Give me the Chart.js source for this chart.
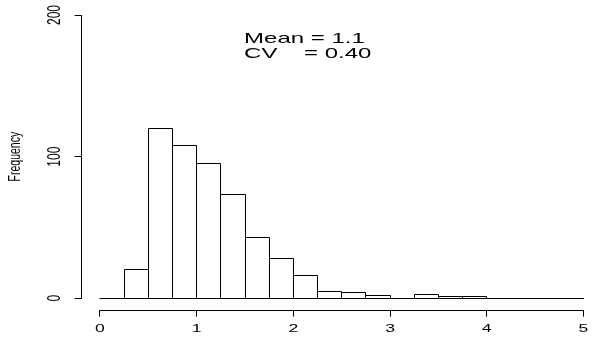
<!DOCTYPE html>
<html><head><meta charset="utf-8">
<script src="https://cdn.jsdelivr.net/npm/chart.js@4.4.1/dist/chart.umd.min.js"></script>
<style>
html,body{margin:0;padding:0;background:#fff;overflow:hidden;width:600px;height:342px;}
canvas{display:block;}
</style></head><body>
<canvas id="c" width="600" height="342"></canvas>
<script>
// ---- data ----
const breaks = [0, 0.25, 0.5, 0.75, 1, 1.25, 1.5, 1.75, 2, 2.25, 2.5, 2.75, 3, 3.25, 3.5, 3.75, 4, 4.25, 4.5, 4.75, 5];
const counts = [0, 20, 120, 108, 95, 73, 43, 28, 16, 5, 4, 2, 0, 3, 1, 1, 0, 0, 0, 0];
const xTicks = [0, 1, 2, 3, 4, 5];
const yTicks = [0, 100, 200];
const yTitle = 'Frequency';
const annotLines = ['Mean = 1.1', 'CV    = 0.40'];
const annotX = 1.49;
const annotY = [180, 169.4];

const FONT = "'Liberation Sans', Arial, Helvetica, sans-serif";
const SX = 1.6; // horizontal text stretch seen in the reference
const points = counts.map((c, i) => ({ x: (breaks[i] + breaks[i + 1]) / 2, y: c }));
const snap = v => Math.floor(v) + 0.5;

function stretchedText(ctx, s, x, y, size, align, rot) {
  ctx.save();
  ctx.translate(x, y);
  ctx.scale(SX, 1);
  if (rot) ctx.rotate(rot);
  ctx.font = size + 'px ' + FONT;
  ctx.textAlign = align;
  ctx.textBaseline = 'alphabetic';
  ctx.fillText(s, 0, 0);
  ctx.restore();
}

const histPlugin = {
  id: 'hist',
  afterDatasetsDraw(chart) {
    const ctx = chart.ctx, xs = chart.scales.x, ys = chart.scales.y;
    const meta = chart.getDatasetMeta(0);
    const y0 = snap(ys.getPixelForValue(0));
    ctx.save();
    ctx.strokeStyle = '#000';
    ctx.lineWidth = 1;
    meta.data.forEach((bar, i) => {
      if (!counts[i]) return;
      const p = bar.getProps(['x', 'y', 'width'], true);
      const l = snap(p.x - p.width / 2), r = snap(p.x + p.width / 2), t = snap(p.y);
      ctx.beginPath();
      ctx.moveTo(l, y0); ctx.lineTo(l, t); ctx.lineTo(r, t); ctx.lineTo(r, y0);
      ctx.stroke();
    });
    // baseline of histogram (zero-height bins included)
    ctx.beginPath();
    ctx.moveTo(snap(xs.getPixelForValue(breaks[0])), y0);
    ctx.lineTo(snap(xs.getPixelForValue(breaks[breaks.length - 1])) + 0.5, y0);
    ctx.stroke();
    // x axis line
    const ya = snap(chart.chartArea.bottom + 0.5);
    ctx.beginPath();
    ctx.moveTo(snap(xs.getPixelForValue(xTicks[0])) - 0.5, ya);
    ctx.lineTo(snap(xs.getPixelForValue(xTicks[xTicks.length - 1])) + 0.5, ya);
    ctx.stroke();
    // y axis line
    const xa = snap(chart.chartArea.left);
    ctx.beginPath();
    ctx.moveTo(xa, snap(ys.getPixelForValue(yTicks[0])) + 0.5);
    ctx.lineTo(xa, snap(ys.getPixelForValue(yTicks[yTicks.length - 1])) - 0.5);
    ctx.stroke();
    ctx.restore();
  },
  afterDraw(chart) {
    const ctx = chart.ctx, xs = chart.scales.x, ys = chart.scales.y;
    ctx.save();
    ctx.fillStyle = '#000';
    // x tick labels
    xs.ticks.forEach(t => {
      stretchedText(ctx, String(t.value), xs.getPixelForValue(t.value), 332, 11, 'center', 0);
    });
    // y tick labels (rotated, reading upward)
    ys.ticks.forEach(t => {
      stretchedText(ctx, String(t.value), 59.8, ys.getPixelForValue(t.value), 12, 'center', -Math.PI / 2);
    });
    // y axis title
    const ca = chart.chartArea;
    stretchedText(ctx, yTitle, 19.8, (ca.top + ca.bottom) / 2, 10.5, 'center', -Math.PI / 2);
    // annotation
    annotLines.forEach((s, i) => {
      stretchedText(ctx, s, xs.getPixelForValue(annotX), ys.getPixelForValue(annotY[i]), 15, 'left', 0);
    });
    ctx.restore();
  }
};

new Chart(document.getElementById('c'), {
  type: 'bar',
  data: { datasets: [{
    data: points,
    backgroundColor: '#fff',
    borderWidth: 0,
    barPercentage: 1,
    categoryPercentage: 1,
    inflateAmount: 0
  }] },
  options: {
    responsive: false,
    animation: false,
    devicePixelRatio: 1,
    layout: { padding: { top: 3.67, left: 0, right: 0, bottom: 0 } },
    plugins: { legend: { display: false }, tooltip: { enabled: false } },
    scales: {
      x: {
        type: 'linear', min: -0.19, max: 5.171, offset: false,
        afterBuildTicks: s => { s.ticks = xTicks.map(v => ({ value: v })); },
        afterFit: s => { s.height = 32.4; },
        grid: { offset: false, drawOnChartArea: false, drawTicks: true, tickLength: 7, color: '#000', lineWidth: 1 },
        border: { display: false },
        ticks: { display: false, autoSkip: false }
      },
      y: {
        type: 'linear', min: -8, max: 208,
        afterBuildTicks: s => { s.ticks = yTicks.map(v => ({ value: v })); },
        afterFit: s => { s.width = 81.6; },
        grid: { offset: false, drawOnChartArea: false, drawTicks: true, tickLength: 7, color: '#000', lineWidth: 1 },
        border: { display: false },
        ticks: { display: false },
        title: { display: false }
      }
    }
  },
  plugins: [histPlugin]
});
</script>
</body></html>
